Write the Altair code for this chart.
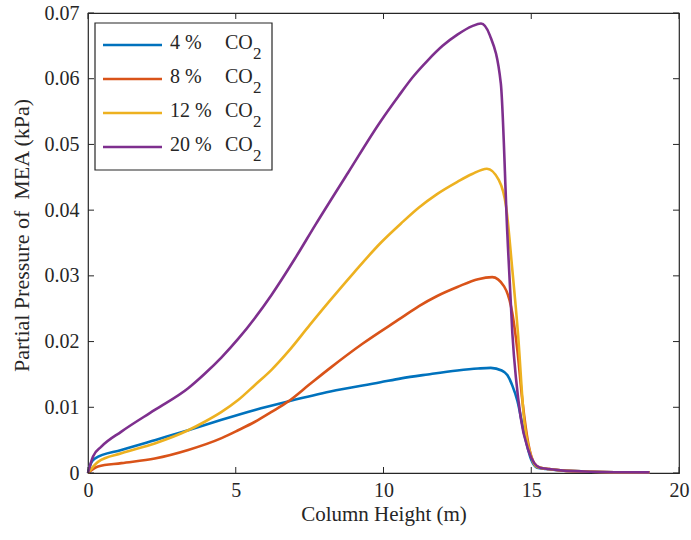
import altair as alt
import pandas as pd

# MEA partial pressure profiles along the absorber column
series_names = ["4 %", "8 %", "12 %", "20 %"]
series_colors = ["#0072BD", "#D95319", "#EDB120", "#7E2F8E"]

x_4 = [0, 0.1, 0.23, 1.13, 2.26, 3.39, 4.52, 5.65, 6.78, 8.2, 9.9, 10.6, 11.5, 12.5,
       13.2, 13.63, 14.0, 14.19, 14.36, 14.53, 14.76, 15.0, 15.2, 15.5, 16.0, 17.0, 19.0]
y_4 = [0, 0.0015, 0.0022, 0.0035, 0.0050, 0.0065, 0.0081, 0.0096, 0.0109, 0.0124, 0.0138,
       0.0144, 0.0150, 0.0156, 0.0159, 0.0160, 0.0156, 0.0149, 0.0133, 0.0110, 0.0060,
       0.0020, 0.0008, 0.0006, 0.0004, 0.0002, 0.0001]

x_8 = [0, 0.34, 1.13, 2.26, 3.39, 4.52, 5.08, 5.65, 6.21, 6.78, 7.5, 8.2, 9.3, 10.6, 11.2,
       11.8, 12.5, 13.2, 13.68, 14.08, 14.36, 14.53, 14.7, 14.9, 15.1, 15.3, 15.6, 16.0,
       17.0, 19.0]
y_8 = [0, 0.0010, 0.0015, 0.0022, 0.0035, 0.0053, 0.0065, 0.0078, 0.0093, 0.0109, 0.0135,
       0.0160, 0.0197, 0.0236, 0.0254, 0.0269, 0.0283, 0.0295, 0.0298, 0.0284, 0.0243,
       0.0187, 0.0110, 0.0045, 0.0015, 0.0008, 0.0006, 0.0004, 0.0002, 0.0001]

x_12 = [0, 0.34, 1.13, 2.26, 3.39, 3.95, 4.52, 5.08, 5.65, 6.21, 6.78, 7.5, 8.2, 9.0, 9.9,
        10.6, 11.2, 11.8, 12.5, 13.0, 13.5, 13.9, 14.15, 14.35, 14.55, 14.75, 15.0, 15.2,
        15.6, 16.0, 17.0, 19.0]
y_12 = [0, 0.0017, 0.0030, 0.0045, 0.0065, 0.0078, 0.0093, 0.0111, 0.0134, 0.0157, 0.0185,
        0.0225, 0.0263, 0.0305, 0.0350, 0.0380, 0.0404, 0.0424, 0.0443, 0.0455, 0.0463,
        0.0446, 0.0405, 0.0314, 0.0213, 0.0085, 0.0025, 0.0009, 0.0006, 0.0004, 0.0002,
        0.0001]

x_20 = [0, 0.17, 0.45, 1.13, 2.26, 3.39, 3.95, 4.52, 5.08, 5.65, 6.21, 7.0, 7.7, 8.8, 9.9,
        10.5, 11.0, 11.5, 12.0, 12.5, 13.0, 13.3, 13.6, 13.97, 14.19, 14.36, 14.64, 14.9,
        15.1, 15.3, 15.6, 16.0, 17.0, 19.0]
y_20 = [0, 0.0025, 0.0040, 0.0063, 0.0096, 0.0129, 0.0151, 0.0176, 0.0204, 0.0236, 0.0271,
        0.0326, 0.0378, 0.0457, 0.0535, 0.0573, 0.0603, 0.0628, 0.0650, 0.0667, 0.0680,
        0.0684, 0.0666, 0.0593, 0.0365, 0.0213, 0.0085, 0.0035, 0.0015, 0.0008, 0.0006,
        0.0004, 0.0002, 0.0001]

x_ticks = [0, 5, 10, 15, 20]
y_ticks = [0, 0.01, 0.02, 0.03, 0.04, 0.05, 0.06, 0.07]

W, H = 591, 460
AX = "#262626"
FONT = "Liberation Serif"

rows = []
for name, xs, ys in zip(series_names, [x_4, x_8, x_12, x_20], [y_4, y_8, y_12, y_20]):
    for xv, yv in zip(xs, ys):
        rows.append({"series": name, "x": xv, "y": yv})
df = pd.DataFrame(rows)

x_scale = alt.Scale(domain=[0, 20], nice=False, zero=False)
y_scale = alt.Scale(domain=[0, 0.07], nice=False)
x_title = "Column Height (m)"
y_title = "Partial Pressure of\u00a0 MEA (kPa)"
x_axis = alt.Axis(values=x_ticks, ticks=False, domain=False, grid=False, labelFlush=False,
                  labelPadding=7, titlePadding=3, format="d")
y_axis = alt.Axis(values=y_ticks, ticks=False, domain=False, grid=False, labelFlush=False,
                  labelPadding=9, titlePadding=11, titleFontSize=22, titleY=222,
                  format=".2~f")


def xq(field):
    return alt.X(field, type="quantitative", scale=x_scale, axis=x_axis, title=x_title)


def yq(field):
    return alt.Y(field, type="quantitative", scale=y_scale, axis=y_axis, title=y_title)


lines = alt.Chart(df).mark_line(strokeWidth=2.6, interpolate="monotone").encode(
    x=xq("x"),
    y=yq("y"),
    color=alt.Color("series:N", scale=alt.Scale(domain=series_names, range=series_colors),
                    legend=None),
)

# inward tick marks on all four sides of the box
xt = pd.DataFrame({"x": x_ticks})
yt = pd.DataFrame({"y": y_ticks})
tick_len = 6
ticks = [
    alt.Chart(xt).mark_rule(color=AX, strokeWidth=1).encode(
        x=xq("x"), y=alt.value(H), y2=alt.value(H - tick_len)),
    alt.Chart(xt).mark_rule(color=AX, strokeWidth=1).encode(
        x=xq("x"), y=alt.value(0), y2=alt.value(tick_len)),
    alt.Chart(yt).mark_rule(color=AX, strokeWidth=1).encode(
        y=yq("y"), x=alt.value(0), x2=alt.value(tick_len)),
    alt.Chart(yt).mark_rule(color=AX, strokeWidth=1).encode(
        y=yq("y"), x=alt.value(W), x2=alt.value(W - tick_len)),
]

# legend box in the upper-left corner (one datum per drawn element)
one = pd.DataFrame({"k": [0]})
legend_layers = [
    alt.Chart(one).mark_rect(fill="white", stroke=AX, strokeWidth=1.2).encode(
        x=alt.value(7), x2=alt.value(184), y=alt.value(10), y2=alt.value(157))
]
for i, (name, col) in enumerate(zip(series_names, series_colors)):
    ry = 32 + 34 * i
    legend_layers.append(
        alt.Chart(one).mark_rule(color=col, strokeWidth=2.6).encode(
            x=alt.value(15), x2=alt.value(74), y=alt.value(ry)))
    legend_layers.append(
        alt.Chart(one).mark_text(text=name, font=FONT, fontSize=20, color=AX,
                                 align="left", baseline="alphabetic").encode(
            x=alt.value(82), y=alt.value(ry + 4)))
    legend_layers.append(
        alt.Chart(one).mark_text(text="CO", font=FONT, fontSize=20, color=AX,
                                 align="left", baseline="alphabetic").encode(
            x=alt.value(137), y=alt.value(ry + 4)))
    legend_layers.append(
        alt.Chart(one).mark_text(text="2", font=FONT, fontSize=17, color=AX,
                                 align="left", baseline="alphabetic").encode(
            x=alt.value(165), y=alt.value(ry + 14)))

chart = alt.layer(lines, *ticks, *legend_layers).properties(
    width=W, height=H,
    padding={"left": 88, "top": 13, "right": 12, "bottom": 67},
    autosize="none",
    background="white",
).configure(font=FONT).configure_axis(
    labelFont=FONT, titleFont=FONT, labelFontSize=20, titleFontSize=21,
    labelColor=AX, titleColor=AX, titleFontWeight="normal",
).configure_view(stroke=AX, strokeWidth=1.2)

chart.save("out.html", embed_options={"renderer": "svg", "actions": False})
